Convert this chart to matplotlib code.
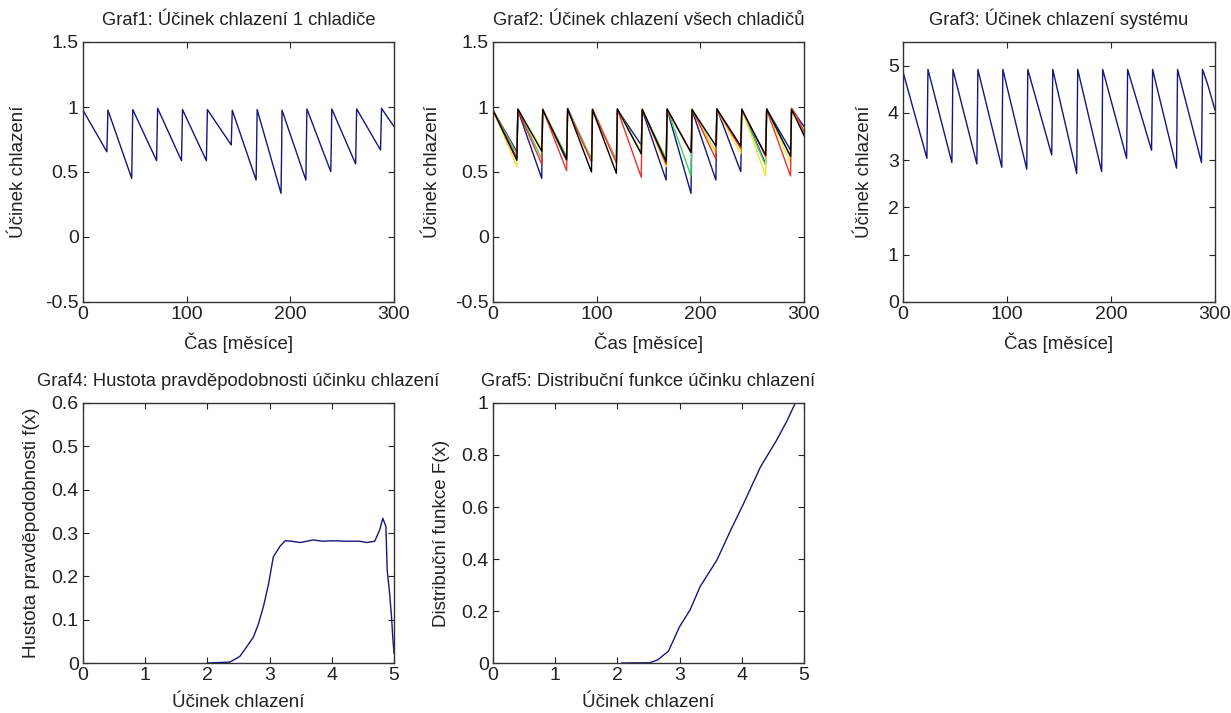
import numpy as np
import matplotlib
matplotlib.use("Agg")
import matplotlib.pyplot as plt
from matplotlib.ticker import FuncFormatter

plt.rcParams['font.family'] = ['Liberation Sans', 'DejaVu Sans']

# time vertices [months]: peak after service, trough, half-step, next peak ...
t = [0,
     23, 23.5, 24,
     47, 47.5, 48,
     71, 71.5, 72,
     95, 95.5, 96,
     119, 119.5, 120,
     143, 143.5, 144,
     167, 167.5, 168,
     191, 191.5, 192,
     215, 215.5, 216,
     239, 239.5, 240,
     263, 263.5, 264,
     287, 287.5, 288,
     293, 300]

# cooling effect of the single chillers
ch1 = [0.975,
       0.656, 0.80, 0.977,
       0.451, 0.733, 0.98,
       0.587, 0.80, 0.99,
       0.587, 0.78, 0.98,
       0.587, 0.78, 0.98,
       0.708, 0.85, 0.975,
       0.438, 0.708, 0.98,
       0.336, 0.60, 0.975,
       0.438, 0.733, 0.985,
       0.503, 0.708, 0.985,
       0.562, 0.78, 0.985,
       0.669, 0.836, 0.99,
       0.93, 0.85]
ch2 = [0.975,
       0.54, 0.76, 0.98,
       0.68, 0.83, 0.985,
       0.60, 0.79, 0.98,
       0.58, 0.78, 0.985,
       0.58, 0.77, 0.98,
       0.65, 0.82, 0.985,
       0.54, 0.76, 0.98,
       0.65, 0.82, 0.985,
       0.65, 0.81, 0.98,
       0.64, 0.80, 0.985,
       0.47, 0.72, 0.98,
       0.57, 0.77, 0.985,
       0.92, 0.80]
ch3 = [0.975,
       0.64, 0.81, 0.985,
       0.60, 0.79, 0.98,
       0.62, 0.80, 0.985,
       0.60, 0.79, 0.98,
       0.58, 0.78, 0.985,
       0.65, 0.82, 0.98,
       0.60, 0.79, 0.985,
       0.47, 0.72, 0.98,
       0.65, 0.82, 0.985,
       0.69, 0.84, 0.98,
       0.55, 0.76, 0.985,
       0.62, 0.80, 0.98,
       0.92, 0.79]
ch4 = [0.975,
       0.61, 0.80, 0.98,
       0.56, 0.77, 0.985,
       0.51, 0.75, 0.98,
       0.58, 0.78, 0.985,
       0.57, 0.78, 0.98,
       0.46, 0.72, 0.985,
       0.56, 0.77, 0.98,
       0.65, 0.82, 0.985,
       0.60, 0.79, 0.98,
       0.68, 0.83, 0.985,
       0.62, 0.80, 0.98,
       0.47, 0.72, 0.985,
       0.93, 0.81]
ch5 = [0.975,
       0.59, 0.78, 0.985,
       0.66, 0.82, 0.98,
       0.60, 0.79, 0.985,
       0.50, 0.74, 0.98,
       0.49, 0.74, 0.985,
       0.64, 0.81, 0.98,
       0.58, 0.78, 0.985,
       0.65, 0.75, 0.98,
       0.70, 0.84, 0.985,
       0.70, 0.84, 0.98,
       0.63, 0.80, 0.985,
       0.62, 0.80, 0.98,
       0.90, 0.78]

# whole system
system = [4.87,
          3.04, 4.02, 4.92,
          2.95, 3.85, 4.92,
          2.92, 3.85, 4.92,
          2.85, 3.90, 4.92,
          2.81, 3.88, 4.92,
          3.11, 3.92, 4.92,
          2.72, 3.81, 4.92,
          2.76, 3.60, 4.92,
          3.04, 4.02, 4.92,
          3.21, 4.02, 4.92,
          2.83, 3.85, 4.92,
          2.95, 3.92, 4.92,
          4.60, 4.06]

# probability density of the system cooling effect
pdf_x = [2.0, 2.36, 2.52, 2.62, 2.74, 2.82, 2.9, 2.98, 3.06, 3.17, 3.25, 3.35,
         3.49, 3.6, 3.7, 3.85, 4.02, 4.25, 4.45, 4.56, 4.69, 4.77, 4.82, 4.87,
         4.89, 4.93, 4.96, 4.98, 5.0]
pdf_y = [0.0, 0.002, 0.015, 0.035, 0.06, 0.09, 0.13, 0.18, 0.245, 0.27, 0.282, 0.281,
         0.278, 0.281, 0.284, 0.281, 0.282, 0.281, 0.281, 0.278, 0.281, 0.307, 0.334, 0.315,
         0.215, 0.16, 0.107, 0.06, 0.023]

# distribution function
cdf_x = [2.07, 2.52, 2.65, 2.74, 2.82, 3.0, 3.17, 3.33, 3.6, 3.81, 4.03, 4.3,
         4.56, 4.73, 4.86]
cdf_y = [0.0, 0.001, 0.012, 0.03, 0.045, 0.14, 0.205, 0.294, 0.396, 0.505, 0.614, 0.754,
         0.857, 0.933, 1.0]

navy = '#16167c'
chiller_colors = [navy, '#40d060', '#f2e23a', '#e8342c', '#000000']

fmt = FuncFormatter(lambda v, p: '%g' % round(v, 6))


def style(ax, xlim, ylim, xticks, yticks, title, xlabel, ylabel, ypad):
    ax.set_xlim(xlim)
    ax.set_ylim(ylim)
    ax.set_xticks(xticks)
    ax.set_yticks(yticks)
    ax.xaxis.set_major_formatter(fmt)
    ax.yaxis.set_major_formatter(fmt)
    ax.tick_params(direction='in', top=True, right=True, length=4.5, width=0.8,
                   labelsize=14, colors='#222222', pad=3)
    for s in ax.spines.values():
        s.set_color('#333333')
        s.set_linewidth(1.0)
    ax.set_title(title, fontsize=13.2, color='#222222', pad=12)
    ax.set_xlabel(xlabel, fontsize=13.5, color='#222222', labelpad=7)
    ax.set_ylabel(ylabel, fontsize=13.5, color='#222222', labelpad=ypad)


fig = plt.figure(figsize=(12.31, 7.13), dpi=100)
W, H = 1231.0, 713.0


def axes_px(x0, y0, x1, y1):
    return fig.add_axes([x0 / W, 1 - y1 / H, (x1 - x0) / W, (y1 - y0) / H])


ax1 = axes_px(83, 42, 394, 302)
ax2 = axes_px(493, 42, 804, 302)
ax3 = axes_px(903, 42, 1215, 302)
ax4 = axes_px(83, 403, 394, 663)
ax5 = axes_px(493, 403, 804, 663)

ax1.plot(t, ch1, color=navy, lw=1.0)
style(ax1, (0, 300), (-0.5, 1.5), [0, 100, 200, 300], [-0.5, 0, 0.5, 1, 1.5],
      'Graf1: Účinek chlazení 1 chladiče', 'Čas [měsíce]', 'Účinek chlazení', 13)

for ys, c in zip([ch1, ch3, ch2, ch4, ch5],
                 [chiller_colors[0], chiller_colors[1], chiller_colors[2],
                  chiller_colors[3], chiller_colors[4]]):
    ax2.plot(t, ys, color=c, lw=1.0)
style(ax2, (0, 300), (-0.5, 1.5), [0, 100, 200, 300], [-0.5, 0, 0.5, 1, 1.5],
      'Graf2: Účinek chlazení všech chladičů', 'Čas [měsíce]', 'Účinek chlazení', 10)

ax3.plot(t, system, color=navy, lw=1.0)
style(ax3, (0, 300), (0, 5.5), [0, 100, 200, 300], [0, 1, 2, 3, 4, 5],
      'Graf3: Účinek chlazení systému', 'Čas [měsíce]', 'Účinek chlazení', 11)

ax4.plot(pdf_x, pdf_y, color=navy, lw=1.0)
style(ax4, (0, 5), (0, 0.6), [0, 1, 2, 3, 4, 5], [0, 0.1, 0.2, 0.3, 0.4, 0.5, 0.6],
      'Graf4: Hustota pravděpodobnosti účinku chlazení', 'Účinek chlazení',
      'Hustota pravděpodobnosti f(x)', 8)

ax5.plot(cdf_x, cdf_y, color=navy, lw=1.0)
style(ax5, (0, 5), (0, 1), [0, 1, 2, 3, 4, 5], [0, 0.2, 0.4, 0.6, 0.8, 1],
      'Graf5: Distribuční funkce účinku chlazení', 'Účinek chlazení',
      'Distribuční funkce F(x)', 8)

fig.savefig('out.png', dpi=100, facecolor='white')
